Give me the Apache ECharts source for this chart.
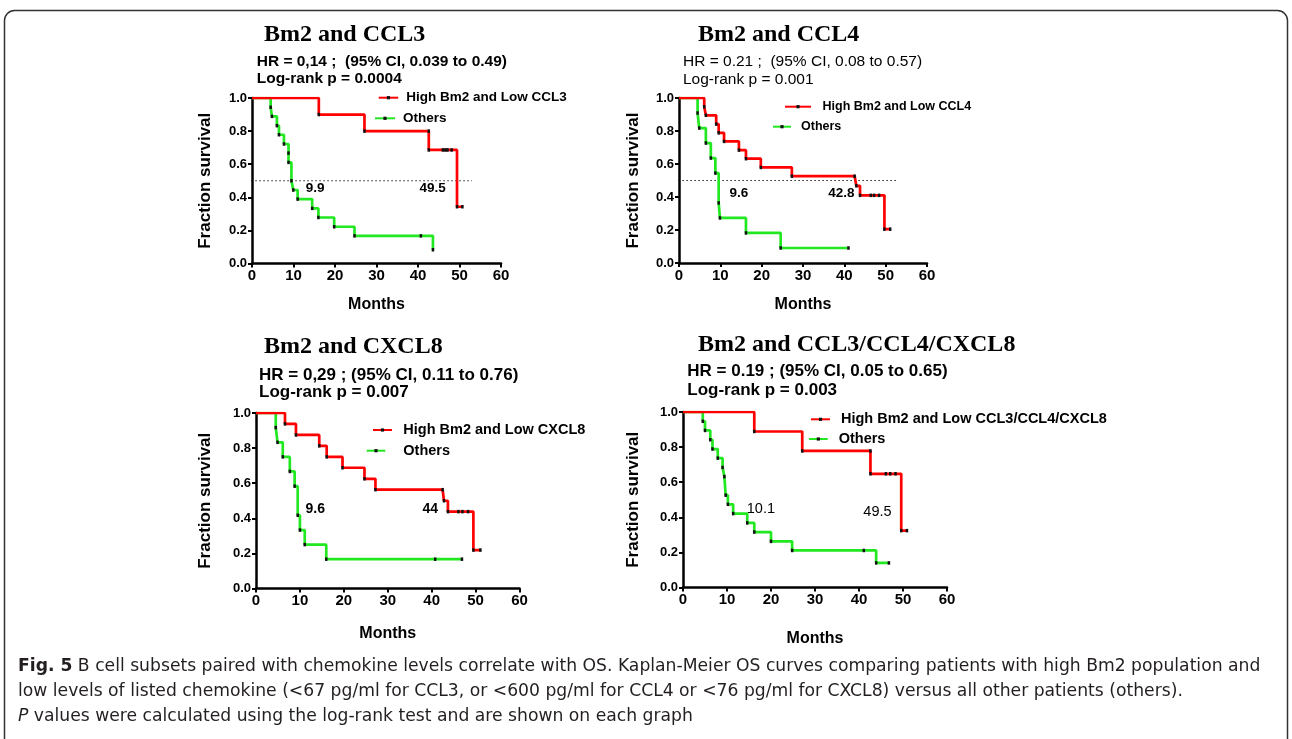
<!DOCTYPE html>
<html><head><meta charset="utf-8">
<script src="https://cdn.jsdelivr.net/npm/echarts@6/dist/echarts.min.js"></script>
<style>html,body{margin:0;padding:0;background:#fff}#c{width:1292px;height:739px}</style>
</head><body><div id="c"></div>
<script>
// ---------- text ----------
const titles = ['Bm2 and CCL3', 'Bm2 and CCL4', 'Bm2 and CXCL8', 'Bm2 and CCL3/CCL4/CXCL8'];
const hrLines = ['HR = 0,14 ;  (95% CI, 0.039 to 0.49)', 'HR = 0.21 ;  (95% CI, 0.08 to 0.57)',
                 'HR = 0,29 ; (95% CI, 0.11 to 0.76)', 'HR = 0.19 ; (95% CI, 0.05 to 0.65)'];
const pLines = ['Log-rank p = 0.0004', 'Log-rank p = 0.001', 'Log-rank p = 0.007', 'Log-rank p = 0.003'];
const highNames = ['High Bm2 and Low CCL3', 'High Bm2 and Low CCL4', 'High Bm2 and Low CXCL8', 'High Bm2 and Low CCL3/CCL4/CXCL8'];
const otherName = 'Others';
const medianHigh = ['49.5', '42.8', '44', '49.5'];
const medianOthers = ['9.9', '9.6', '9.6', '10.1'];
const xAxisTitle = 'Months';
const yAxisTitle = 'Fraction survival';
const xTickStep = 10, xMax = 60;
const yTickStep = 0.2, yMax = 1.0;
const caption1 = '{b|Fig. 5} B cell subsets paired with chemokine levels correlate with OS. Kaplan-Meier OS curves comparing patients with high Bm2 population and';
const caption2 = 'low levels of listed chemokine (<67 pg/ml for CCL3, or <600 pg/ml for CCL4 or <76 pg/ml for CXCL8) versus all other patients (others).';
const caption3 = '{i|P} values were calculated using the log-rank test and are shown on each graph';

// ---------- data (months, fraction survival) ----------
const p1HighT = [0, 16.1, 27.1, 42.6, 42.6, 46.0, 46.6, 47.1, 48.1, 49.4, 50.7];
const p1HighS = [1, 0.9, 0.8, 0.8, 0.686, 0.686, 0.686, 0.686, 0.686, 0.343, 0.343];
const p1OthT = [0, 4.5, 4.8, 6.0, 6.5, 7.7, 8.8, 8.8, 9.5, 9.95, 11.0, 14.5, 16.0, 19.8, 24.7, 40.7, 43.6];
const p1OthS = [1, 0.944, 0.889, 0.833, 0.778, 0.722, 0.667, 0.611, 0.5, 0.444, 0.389, 0.333, 0.278, 0.222, 0.167, 0.167, 0.083];

const p2HighT = [0, 6.1, 6.5, 9.0, 9.6, 10.9, 14.5, 16.2, 19.8, 27.3, 42.5, 42.9, 43.8, 46.4, 47.2, 48.4, 49.7, 51.1];
const p2HighS = [1, 0.947, 0.895, 0.842, 0.789, 0.737, 0.684, 0.632, 0.579, 0.526, 0.526, 0.468, 0.41, 0.41, 0.41, 0.41, 0.205, 0.205];
const p2OthT = [0, 4.5, 4.9, 6.5, 7.7, 8.8, 9.6, 9.9, 16.2, 24.6, 41.0];
const p2OthS = [1, 0.909, 0.818, 0.727, 0.636, 0.545, 0.364, 0.273, 0.182, 0.091, 0.091];

const p3HighT = [0, 6.6, 9.1, 14.4, 16.1, 19.7, 24.7, 27.2, 42.5, 42.8, 43.7, 46.1, 47.0, 48.3, 49.5, 51.1];
const p3HighS = [1, 0.938, 0.875, 0.813, 0.75, 0.688, 0.625, 0.563, 0.563, 0.5, 0.438, 0.438, 0.438, 0.438, 0.219, 0.219];
const p3OthT = [0, 4.5, 4.9, 6.1, 7.7, 8.8, 9.5, 10.0, 11.1, 16.0, 40.8, 46.9];
const p3OthS = [1, 0.917, 0.833, 0.75, 0.667, 0.583, 0.417, 0.333, 0.25, 0.167, 0.167, 0.167];

const p4HighT = [0, 16.2, 27.1, 42.6, 42.6, 46.1, 47.1, 48.3, 49.6, 50.9];
const p4HighS = [1, 0.889, 0.778, 0.778, 0.648, 0.648, 0.648, 0.648, 0.324, 0.324];
const p4OthT = [0, 4.5, 5.0, 6.2, 6.7, 7.9, 9.0, 9.4, 9.7, 10.2, 11.4, 14.6, 16.2, 20.0, 24.8, 41.1, 43.9, 46.8];
const p4OthS = [1, 0.947, 0.895, 0.842, 0.789, 0.737, 0.684, 0.632, 0.526, 0.474, 0.421, 0.368, 0.316, 0.263, 0.211, 0.211, 0.14, 0.14];

const highT = [p1HighT, p2HighT, p3HighT, p4HighT];
const highS = [p1HighS, p2HighS, p3HighS, p4HighS];
const othT = [p1OthT, p2OthT, p3OthT, p4OthT];
const othS = [p1OthS, p2OthS, p3OthS, p4OthS];

// ---------- layout / style ----------
const SANS = '"Liberation Sans", Arial, sans-serif';
const SERIF = '"Liberation Serif", "Times New Roman", serif';
const CAPF = '"DejaVu Sans", "Liberation Sans", sans-serif';
const RED = '#ff0000', GREEN = '#22e822';

const panels = [
  {grid:{left:252, top:98, width:249, height:165.5}, xGap:33, yGap:38,
   title:{x:264, y:34.8}, sub:{x:256.7, y1:61.6, y2:79.2, size:15.5, weight:'bold'},
   legH:{left:377.7, cy:97.7, w:19.5, pad:3, fs:13.5}, legO:{left:374, cy:118.3, w:20, pad:3, fs:13.5},
   medO:[15.2, 0.456], medH:[43.5, 0.456], medWeight:'bold', medSize:13.5, dotted:true},
  {grid:{left:679, top:98, width:248, height:165}, xGap:34, yGap:37,
   title:{x:698, y:34.8}, sub:{x:683, y1:61.6, y2:79.9, size:15.5, weight:'normal'},
   legH:{left:784, cy:106.7, w:26, pad:6.5, fs:12.5}, legO:{left:772, cy:126.7, w:18, pad:5, fs:12.5},
   medO:[14.5, 0.424], medH:[39.3, 0.424], medWeight:'bold', medSize:13.5, dotted:true},
  {grid:{left:256, top:413, width:263.5, height:175.5}, xGap:36.7, yGap:41.7,
   title:{x:264, y:347}, sub:{x:259, y1:375, y2:392.6, size:17, weight:'bold'},
   legH:{left:372, cy:430, w:19, pad:6.3, fs:14.5}, legO:{left:365.7, cy:450.7, w:18.6, pad:13, fs:14.5},
   medO:[13.5, 0.452], medH:[39.7, 0.452], medWeight:'bold', medSize:14, dotted:false},
  {grid:{left:683, top:412, width:264, height:175.5}, xGap:42.7, yGap:41,
   title:{x:698, y:344.8}, sub:{x:687.3, y1:371, y2:390.3, size:17, weight:'bold'},
   legH:{left:810, cy:419.3, w:19, pad:6, fs:14.5}, legO:{left:808, cy:439, w:18.7, pad:6, fs:14.5},
   medO:[17.7, 0.45], medH:[44.2, 0.431], medWeight:'normal', medSize:14.5, dotted:false}
];

function stepData(T, S) {
  return T.map((t, i) => i === 0 ? {value:[t, S[i]], symbol:'none'} : [t, S[i]]);
}

const option = {
  animation: false,
  backgroundColor: '#fff',
  grid: [], xAxis: [], yAxis: [], series: [], legend: [], graphic: []
};

panels.forEach((p, i) => {
  option.grid.push(Object.assign({containLabel:false, outerBoundsMode:'none'}, p.grid));
  option.xAxis.push({
    gridIndex:i, type:'value', min:0, max:xMax, interval:xTickStep,
    axisLine:{show:true, onZero:false, lineStyle:{color:'#000', width:2.5}},
    axisTick:{show:true, length:4, lineStyle:{color:'#000', width:2}},
    axisLabel:{color:'#000', fontWeight:'bold', fontSize:15, fontFamily:SANS, margin:5},
    splitLine:{show:false},
    name:xAxisTitle, nameLocation:'middle', nameGap:p.xGap,
    nameTextStyle:{color:'#000', fontWeight:'bold', fontSize:16, fontFamily:SANS}
  });
  option.yAxis.push({
    gridIndex:i, type:'value', min:0, max:yMax, interval:yTickStep,
    axisLine:{show:true, onZero:false, lineStyle:{color:'#000', width:2.5}},
    axisTick:{show:true, length:4, lineStyle:{color:'#000', width:2}},
    axisLabel:{color:'#000', fontWeight:'bold', fontSize:13, fontFamily:SANS, margin:5,
               formatter:v => v.toFixed(1)},
    splitLine:{show:false},
    name:yAxisTitle, nameLocation:'middle', nameGap:p.yGap,
    nameTextStyle:{color:'#000', fontWeight:'bold', fontSize:17, fontFamily:SANS}
  });
  const common = {type:'line', xAxisIndex:i, yAxisIndex:i, step:'end', symbol:'rect',
                  symbolSize:[2.5, 3.5], itemStyle:{color:'#111'}, z:3};
  option.series.push(Object.assign({}, common, {
    name:otherName, data:stepData(othT[i], othS[i]),
    lineStyle:{color:GREEN, width:2.7}
  }));
  option.series.push(Object.assign({}, common, {
    name:highNames[i], data:stepData(highT[i], highS[i]),
    lineStyle:{color:RED, width:2.7}
  }));
  if (p.dotted) {
    option.series.push({type:'line', xAxisIndex:i, yAxisIndex:i, clip:false, symbol:'none', silent:true,
      data:[[-4, 0.5], [53, 0.5]], lineStyle:{color:'#000', width:1.2, type:[1.3, 2.7]}, z:2});
  }
  option.series.push({type:'scatter', xAxisIndex:i, yAxisIndex:i, symbolSize:0, silent:true, z:4,
    itemStyle:{opacity:1},
    data:[{value:p.medO, name:medianOthers[i]}, {value:p.medH, name:medianHigh[i]}],
    label:{show:true, position:'inside', formatter:'{b}', color:'#000', opacity:1,
           fontWeight:p.medWeight, fontSize:p.medSize, fontFamily:SANS}});

  [[p.legH, highNames[i]], [p.legO, otherName]].forEach(([L, nm]) => {
    option.legend.push({
      data:[nm], orient:'horizontal', left:L.left, top:L.cy - 9, padding:0,
      itemWidth:L.w, itemHeight:4, selectedMode:false,
      textStyle:{color:'#000', fontWeight:'bold', fontSize:L.fs, fontFamily:SANS,
                 padding:[0, 0, 0, L.pad], lineHeight:18, height:18, verticalAlign:'middle'}
    });
  });

  option.graphic.push({type:'text', x:p.title.x, y:p.title.y, silent:true,
    style:{text:titles[i], font:'bold 24px ' + SERIF, fill:'#000', align:'left', verticalAlign:'middle'}});
  option.graphic.push({type:'text', x:p.sub.x, y:p.sub.y1, silent:true,
    style:{text:hrLines[i], font:p.sub.weight + ' ' + p.sub.size + 'px ' + SANS, fill:'#000', align:'left', verticalAlign:'middle'}});
  option.graphic.push({type:'text', x:p.sub.x, y:p.sub.y2, silent:true,
    style:{text:pLines[i], font:p.sub.weight + ' ' + p.sub.size + 'px ' + SANS, fill:'#000', align:'left', verticalAlign:'middle'}});
});

// frame
option.graphic.push({type:'rect', silent:true, shape:{x:4.5, y:10.5, width:1283, height:800, r:10},
  style:{fill:'none', stroke:'#333', lineWidth:1.5}});
// caption
const CAPSIZE = 17.2;
const capFont = {fontSize:CAPSIZE, fontFamily:CAPF, fill:'#231f20'};
[[caption1, 667], [caption2, 692], [caption3, 717]].forEach(([t, y]) => {
  option.graphic.push({type:'text', x:18, y:y, silent:true,
    style:Object.assign({text:t, align:'left', verticalAlign:'middle',
      rich:{b:{fontWeight:'bold', fontSize:CAPSIZE, fontFamily:CAPF, fill:'#231f20'},
            i:{fontStyle:'italic', fontSize:CAPSIZE, fontFamily:CAPF, fill:'#231f20'}}}, capFont)});
});

const chart = echarts.init(document.getElementById('c'), null, {renderer:'canvas'});
chart.setOption(option);
</script></body></html>
